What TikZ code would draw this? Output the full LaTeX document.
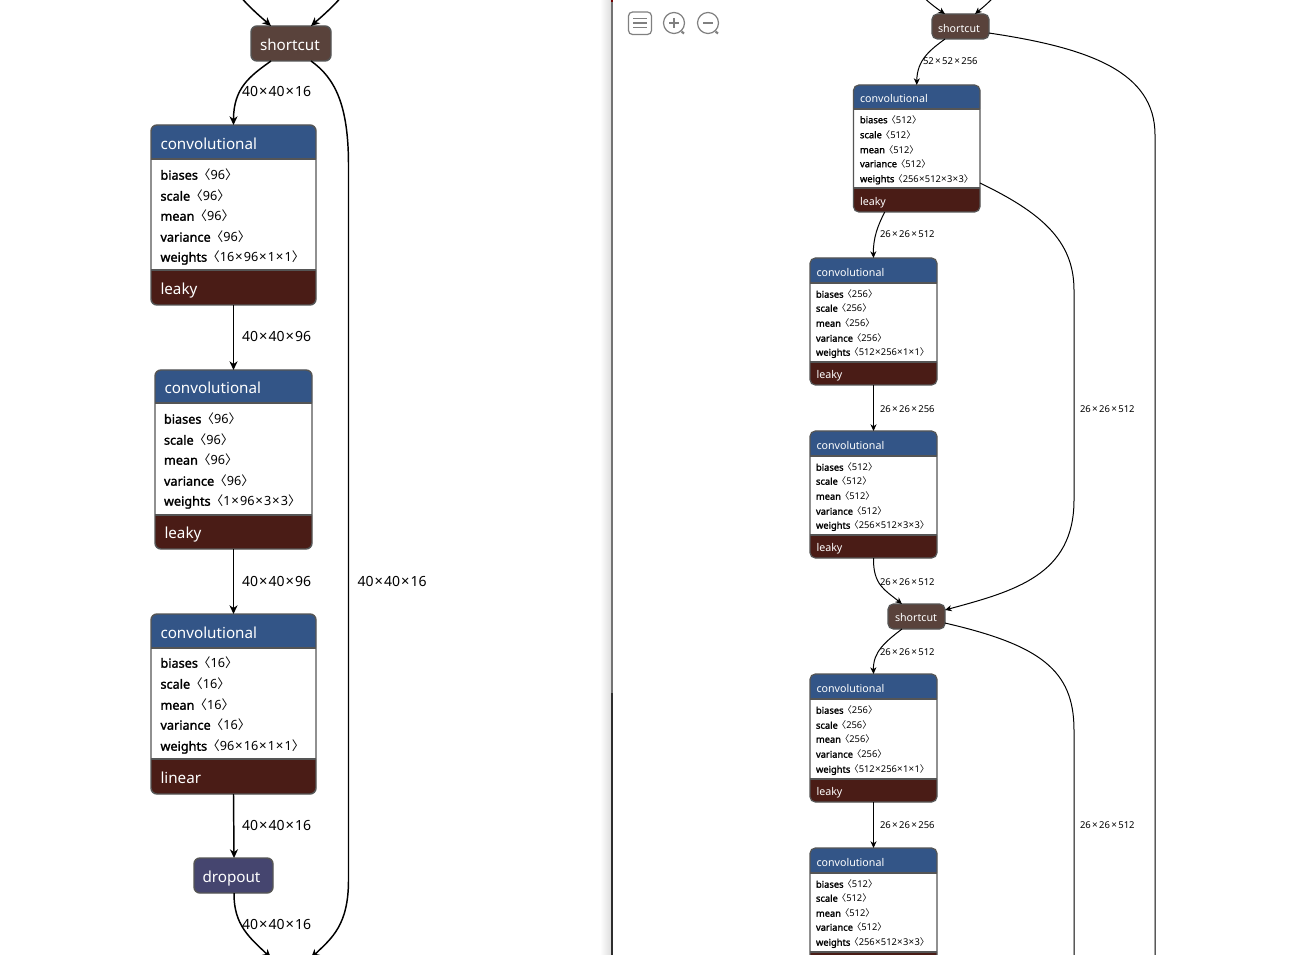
\documentclass[tikz,border=0pt]{standalone}
\usepackage{fontspec}
\setmainfont{Noto Sans}
\newfontfamily\cjkf{Noto Sans CJK SC}
\newfontfamily\bfx{Noto Sans}[FakeBold=1.6]
\usetikzlibrary{fit,arrows.meta}
\definecolor{hdr}{HTML}{335587}
\definecolor{ftr}{HTML}{4A1C16}
\definecolor{scut}{HTML}{59423B}
\definecolor{drop}{HTML}{45456F}
\definecolor{bord}{HTML}{555555}
\newcommand{\LB}{{\cjkf 〈}}
\newcommand{\LBs}{{\cjkf\kern-0.1em 〈}}
\newcommand{\RB}{{\cjkf 〉}}
\newcommand{\X}{\kern0.075em{\fontsize{1.05em}{1em}\selectfont ×}\kern0.075em}
\newcommand{\Xm}{\kern0.03em{\fontsize{1.05em}{1em}\selectfont ×}\kern0.03em}
\newcommand{\Xs}{\kern0.14em{\fontsize{1.05em}{1em}\selectfont ×}\kern0.14em}
\tikzset{
 x=0.75pt,y=-0.75pt,
 frame/.style={draw=bord,line width=#1,inner sep=0pt,outer sep=0pt,rectangle},
 txt/.style={inner sep=0pt,outer sep=0pt,anchor=base west},
 big/.style={font=\fontsize{11.4pt}{14pt}\selectfont},
 bigrow/.style={font=\fontsize{9.5pt}{12pt}\selectfont},
 small/.style={font=\fontsize{8pt}{10pt}\selectfont},
 smallrow/.style={font=\fontsize{7pt}{9pt}\selectfont},
 biglabel/.style={txt,font=\fontsize{10.5pt}{13pt}\selectfont},
 smalllabel/.style={txt,font=\fontsize{7.1pt}{9pt}\selectfont},
 bigedge/.style={draw=black,line width=1.1pt,-{Stealth[length=6.5pt,width=6pt,inset=2pt]}},
 smalledge/.style={draw=black,line width=0.75pt,-{Stealth[length=5pt,width=4.5pt,inset=1.5pt]}},
 smallplain/.style={draw=black,line width=0.75pt},
 icon/.style={draw=black!50,line width=0.9pt},
}
\newcommand{\blockbig}[9]{%
 \fill[white] (#2,#3) rectangle (#4,#7);
 \fill[hdr] (#2,#5) [rounded corners=4.5pt] -- (#2,#3) -- (#4,#3) [sharp corners] -- (#4,#5) -- cycle;
 \fill[ftr] (#2,#6) [rounded corners=4.5pt] -- (#2,#7) -- (#4,#7) [sharp corners] -- (#4,#6) -- cycle;
 \draw[bord,line width=1.1pt] (#2,#5) -- (#4,#5) (#2,#6) -- (#4,#6);
 \node[frame=1.1pt,rounded corners=4.5pt,fit={(#2,#3)(#4,#7)}] (#1) {};
 \node[txt,big,text=white] (#1t) at ({#2+9.5},{#5-9.5}) {#8};
 \node[txt,big,text=white] (#1f) at ({#2+9.5},{#7-10.3}) {#9};
}
\newcommand{\blocksmall}[9]{%
 \fill[white] (#2,#3) rectangle (#4,#7);
 \fill[hdr] (#2,#5) [rounded corners=4pt] -- (#2,#3) -- (#4,#3) [sharp corners] -- (#4,#5) -- cycle;
 \fill[ftr] (#2,#6) [rounded corners=4pt] -- (#2,#7) -- (#4,#7) [sharp corners] -- (#4,#6) -- cycle;
 \draw[bord,line width=0.9pt] (#2,#5) -- (#4,#5) (#2,#6) -- (#4,#6);
 \node[frame=0.9pt,rounded corners=4pt,fit={(#2,#3)(#4,#7)}] (#1) {};
 \node[txt,small,text=white] (#1t) at ({#2+6.5},{#5-6.5}) {#8};
 \node[txt,small,text=white] (#1f) at ({#2+6.5},{#7-6.7}) {#9};
}
\newcommand{\rowbig}[4]{\node[txt,bigrow] (#1) at (#2,{#3+4.7}) {#4};}
\newcommand{\rowsmall}[4]{\node[txt,smallrow] (#1) at (#2,{#3+3.2}) {#4};}
\newcommand{\rb}[2]{{\bfx #1}\LB#2\RB}
\newcommand{\rs}[2]{{\bfx #1}\LBs#2\RB}
\begin{document}
\begin{tikzpicture}
\useasboundingbox (0,0) rectangle (1303,955);
\clip (0,0) rectangle (1303,955);
\fill[white] (0,0) rectangle (1303,955);
% panel divider
\shade[left color=white,right color=black!13] (600,0) rectangle (611,955);
\fill[black!55] (611,0) rectangle (613,693);
\fill[black!82] (611,693) rectangle (613,955);
\fill[red!45!black] (611,0) rectangle (613,2);
% free ends
\coordinate (ta) at (236,-8);
\coordinate (tb) at (346,-8);
\coordinate (ba) at (271,958);
\coordinate (bb) at (311,958);
\coordinate (rta) at (918,-8);
\coordinate (rtb) at (998,-8);
\coordinate (r1end) at (1155,960);
\coordinate (r4end) at (1074,960);
% --- LEFT
\node[frame=1.1pt,rounded corners=4.5pt,fill=scut,fit={(251,26)(331,61)}] (s1) {};
\node[txt,big,text=white] (s1t) at (260,50.5) {shortcut};
\blockbig{c1}{151}{125}{316}{159}{270}{305}{convolutional}{leaky}
\rowbig{c1a}{160.5}{175}{\rb{biases}{96}}
\rowbig{c1b}{160.5}{196}{\rb{scale}{96}}
\rowbig{c1c}{160.5}{216}{\rb{mean}{96}}
\rowbig{c1d}{160.5}{237}{\rb{variance}{96}}
\rowbig{c1e}{160.5}{257}{\rb{weights}{16\X96\X1\X1}}
\blockbig{c2}{155}{370}{312}{403}{515}{549}{convolutional}{leaky}
\rowbig{c2a}{164}{419}{\rb{biases}{96}}
\rowbig{c2b}{164}{440}{\rb{scale}{96}}
\rowbig{c2c}{164}{460}{\rb{mean}{96}}
\rowbig{c2d}{164}{481}{\rb{variance}{96}}
\rowbig{c2e}{164}{501}{\rb{weights}{1\X96\X3\X3}}
\blockbig{c3}{151}{614}{316}{648}{759}{794}{convolutional}{linear}
\rowbig{c3a}{160.5}{663}{\rb{biases}{16}}
\rowbig{c3b}{160.5}{684}{\rb{scale}{16}}
\rowbig{c3c}{160.5}{705}{\rb{mean}{16}}
\rowbig{c3d}{160.5}{725}{\rb{variance}{16}}
\rowbig{c3e}{160.5}{746}{\rb{weights}{96\X16\X1\X1}}
\node[frame=1.1pt,rounded corners=4.5pt,fill=drop,fit={(194,858)(273,893)}] (d1) {};
\node[txt,big,text=white] (d1t) at (202.5,882) {dropout};
% left edges
\draw[bigedge] (ta) .. controls (252,10) and (262,18) .. ([xshift=-15pt]s1.north);
\draw[bigedge] (tb) .. controls (330,10) and (320,18) .. ([xshift=15pt]s1.north);
\draw[bigedge] ([xshift=-15pt]s1.south) .. controls (250,76) and (233.5,88) .. (c1.north);
\draw[bigedge] (c1.south) -- (c2.north);
\draw[bigedge] (c2.south) -- (c3.north);
\draw[bigedge] (c3.south) -- ([xshift=0.4pt]d1.north);
\draw[bigedge] ([xshift=0.4pt]d1.south) .. controls (233.5,925) and (250,938) .. (ba);
\draw[bigedge] ([xshift=15pt]s1.south) .. controls (335,78) and (348.5,105) .. (348.5,165) -- (348.5,880) .. controls (348.5,925) and (332,938) .. (bb);
\node[biglabel] (l1) at (242,96.5) {40\X40\X16};
\node[biglabel] (l2) at (242,342) {40\X40\X96};
\node[biglabel] (l3) at (242,586) {40\X40\X96};
\node[biglabel] (l4) at (357.5,586) {40\X40\X16};
\node[biglabel] (l5) at (242,830) {40\X40\X16};
\node[biglabel] (l6) at (242,929) {40\X40\X16};
% --- RIGHT
\node[frame=0.9pt,rounded corners=4pt,fill=scut,fit={(932,14)(989,39)}] (r0) {};
\node[txt,small,text=white] (r0t) at (938,32.5) {shortcut};
\blocksmall{r1}{853.5}{85}{980}{109}{188}{212}{convolutional}{leaky}
\rowsmall{r1a}{860}{120}{\rs{biases}{512}}
\rowsmall{r1b}{860}{135}{\rs{scale}{512}}
\rowsmall{r1c}{860}{150}{\rs{mean}{512}}
\rowsmall{r1d}{860}{164}{\rs{variance}{512}}
\rowsmall{r1e}{860}{179}{\rs{weights}{256\Xm512\Xm3\Xm3}}
\blocksmall{r2}{810}{258}{937}{283}{362}{385}{convolutional}{leaky}
\rowsmall{r2a}{816}{294.5}{\rs{biases}{256}}
\rowsmall{r2b}{816}{308.5}{\rs{scale}{256}}
\rowsmall{r2c}{816}{323.5}{\rs{mean}{256}}
\rowsmall{r2d}{816}{338.5}{\rs{variance}{256}}
\rowsmall{r2e}{816}{352.5}{\rs{weights}{512\Xm256\Xm1\Xm1}}
\blocksmall{r3}{810}{431}{937}{456}{535}{558}{convolutional}{leaky}
\rowsmall{r3a}{816}{467.5}{\rs{biases}{512}}
\rowsmall{r3b}{816}{481.5}{\rs{scale}{512}}
\rowsmall{r3c}{816}{496.5}{\rs{mean}{512}}
\rowsmall{r3d}{816}{511.5}{\rs{variance}{512}}
\rowsmall{r3e}{816}{525.5}{\rs{weights}{256\Xm512\Xm3\Xm3}}
\node[frame=0.9pt,rounded corners=4pt,fill=scut,fit={(888,604)(945,629)}] (r4) {};
\node[txt,small,text=white] (r4t) at (895,621.5) {shortcut};
\blocksmall{r5}{810}{674}{937}{699}{779}{802}{convolutional}{leaky}
\rowsmall{r5a}{816}{710.5}{\rs{biases}{256}}
\rowsmall{r5b}{816}{725.5}{\rs{scale}{256}}
\rowsmall{r5c}{816}{739.5}{\rs{mean}{256}}
\rowsmall{r5d}{816}{754.5}{\rs{variance}{256}}
\rowsmall{r5e}{816}{769.5}{\rs{weights}{512\Xm256\Xm1\Xm1}}
\blocksmall{r6}{810}{848}{937}{873}{952}{975}{convolutional}{}
\rowsmall{r6a}{816}{884.5}{\rs{biases}{512}}
\rowsmall{r6b}{816}{898.5}{\rs{scale}{512}}
\rowsmall{r6c}{816}{913.5}{\rs{mean}{512}}
\rowsmall{r6d}{816}{927.5}{\rs{variance}{512}}
\rowsmall{r6e}{816}{942.5}{\rs{weights}{256\Xm512\Xm3\Xm3}}
% right edges
\draw[smalledge] (rta) .. controls (928,2) and (936,8) .. ([xshift=-11.6pt]r0.north);
\draw[smalledge] (rtb) .. controls (990,2) and (982,8) .. ([xshift=10.9pt]r0.north);
\draw[smalledge] ([xshift=-11.6pt]r0.south) .. controls (930,50) and (917,60) .. (r1.north);
\draw[smalledge] ([xshift=-24pt]r1.south) .. controls (878,225) and (873,238) .. (r2.north);
\draw[smalledge] (r2.south) -- (r3.north);
\draw[smalledge] (r3.south) .. controls (873,585) and (885,590) .. ([xshift=-10.9pt]r4.north);
\draw[smalledge] ([xshift=-10.9pt]r4.south) .. controls (885,642) and (873,652) .. (r5.north);
\draw[smalledge] (r5.south) -- (r6.north);
\draw[smallplain] ([yshift=-4.9pt]r0.east) .. controls (1090,48) and (1155,72) .. (1155,135) -- (r1end);
\draw[smalledge] ([yshift=-25.9pt]r1.east) .. controls (1040,212) and (1074,240) .. (1074,290) -- (1074,500) .. controls (1074,575) and (1015,591) .. ([yshift=-4.5pt]r4.north east);
\draw[smallplain] ([yshift=-4.9pt]r4.east) .. controls (1040,645) and (1074,670) .. (1074,730) -- (r4end);
\node[smalllabel] (m0) at (923,65) {52\Xs52\Xs256};
\node[smalllabel] (m1) at (880,238) {26\Xs26\Xs512};
\node[smalllabel] (m2) at (880,412) {26\Xs26\Xs256};
\node[smalllabel] (m3) at (1080,412) {26\Xs26\Xs512};
\node[smalllabel] (m4) at (880,585) {26\Xs26\Xs512};
\node[smalllabel] (m5) at (880,655) {26\Xs26\Xs512};
\node[smalllabel] (m6) at (880,828) {26\Xs26\Xs256};
\node[smalllabel] (m7) at (1080,828) {26\Xs26\Xs512};
% toolbar icons
\draw[icon,rounded corners=3pt] (628.5,12) rectangle (651.5,34.5);
\draw[icon] (633,18.5) -- (647,18.5) (633,23) -- (647,23) (633,27.5) -- (647,27.5);
\draw[icon] (674,23) circle[radius=10.5];
\draw[icon] (669,23) -- (679,23) (674,18) -- (674,28);
\draw[icon,line width=1.6pt] (681.5,31.5) -- (684,33.5);
\draw[icon] (708,23) circle[radius=10.5];
\draw[icon] (703,23) -- (713,23);
\draw[icon,line width=1.6pt] (715.5,31.5) -- (718,33.5);
\end{tikzpicture}
\end{document}
